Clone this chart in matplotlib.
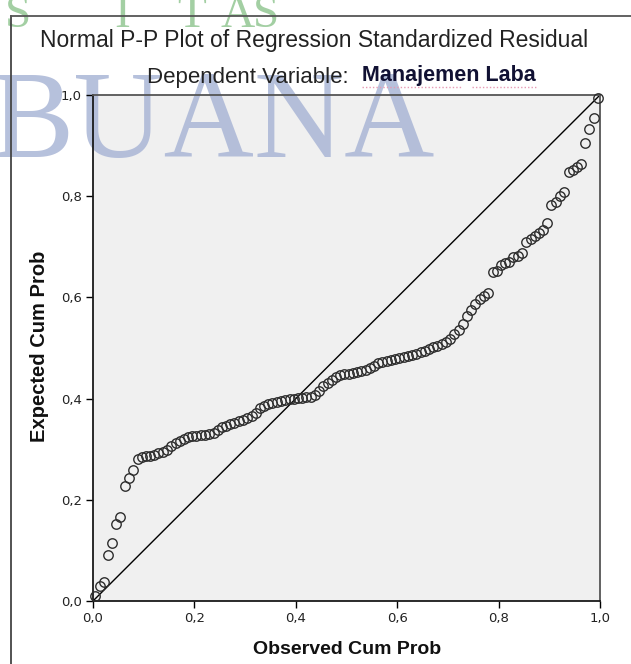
import numpy as np
import matplotlib.pyplot as plt
from matplotlib.lines import Line2D

# observed vs expected cumulative probabilities
observed = [0.004, 0.013, 0.021, 0.029, 0.038, 0.046, 0.054, 0.063, 0.071, 0.079,
            0.088, 0.096, 0.104, 0.113, 0.121, 0.129, 0.138, 0.146, 0.154, 0.163,
            0.171, 0.179, 0.188, 0.196, 0.204, 0.213, 0.221, 0.229, 0.238, 0.246,
            0.254, 0.263, 0.271, 0.279, 0.288, 0.296, 0.304, 0.313, 0.321, 0.329,
            0.338, 0.346, 0.354, 0.363, 0.371, 0.379, 0.388, 0.396, 0.404, 0.413,
            0.421, 0.429, 0.438, 0.446, 0.454, 0.463, 0.471, 0.479, 0.488, 0.496,
            0.504, 0.513, 0.521, 0.529, 0.538, 0.546, 0.554, 0.563, 0.571, 0.579,
            0.588, 0.596, 0.604, 0.613, 0.621, 0.629, 0.638, 0.646, 0.654, 0.663,
            0.671, 0.679, 0.688, 0.696, 0.704, 0.713, 0.721, 0.729, 0.738, 0.746,
            0.754, 0.763, 0.771, 0.779, 0.788, 0.796, 0.804, 0.813, 0.821, 0.829,
            0.838, 0.846, 0.854, 0.863, 0.871, 0.879, 0.888, 0.896, 0.904, 0.913,
            0.921, 0.929, 0.938, 0.946, 0.954, 0.963, 0.971, 0.979, 0.988, 0.996]
expected = [0.010, 0.030, 0.037, 0.091, 0.114, 0.152, 0.166, 0.227, 0.243, 0.258,
            0.281, 0.284, 0.286, 0.287, 0.289, 0.292, 0.294, 0.299, 0.306, 0.312,
            0.316, 0.320, 0.324, 0.326, 0.327, 0.328, 0.329, 0.330, 0.333, 0.338,
            0.343, 0.346, 0.349, 0.352, 0.355, 0.358, 0.361, 0.365, 0.372, 0.381,
            0.386, 0.389, 0.392, 0.394, 0.396, 0.398, 0.399, 0.400, 0.401, 0.402,
            0.403, 0.404, 0.407, 0.416, 0.424, 0.430, 0.437, 0.443, 0.446, 0.448,
            0.449, 0.450, 0.452, 0.454, 0.457, 0.460, 0.464, 0.470, 0.473, 0.475,
            0.477, 0.479, 0.481, 0.483, 0.485, 0.487, 0.489, 0.492, 0.495, 0.499,
            0.502, 0.504, 0.507, 0.511, 0.518, 0.527, 0.536, 0.547, 0.563, 0.575,
            0.586, 0.596, 0.603, 0.609, 0.650, 0.653, 0.664, 0.667, 0.670, 0.679,
            0.682, 0.688, 0.710, 0.716, 0.721, 0.727, 0.733, 0.748, 0.782, 0.788,
            0.800, 0.808, 0.848, 0.852, 0.858, 0.864, 0.905, 0.933, 0.955, 0.994]

ticks = [0.0, 0.2, 0.4, 0.6, 0.8, 1.0]
tick_labels = ['0,0', '0,2', '0,4', '0,6', '0,8', '1,0']

W, H = 631, 664
fig = plt.figure(figsize=(W / 100, H / 100), dpi=100)
fig.patch.set_facecolor('white')
ax = fig.add_axes([93 / W, 63 / H, 507 / W, 506 / H])
ax.set_facecolor('#f0f0f0')

# reference line
ax.plot([0, 1], [0, 1], color='black', linewidth=1.0, zorder=2)
ax.plot(observed, expected, 'o', mfc='none', mec='#2e2e2e', mew=1.0, ms=6.8,
        clip_on=False, zorder=3)

ax.set_xlim(0, 1)
ax.set_ylim(0, 1)
ax.set_xticks(ticks)
ax.set_xticklabels(tick_labels)
ax.set_yticks(ticks)
ax.set_yticklabels(tick_labels)
ax.tick_params(direction='out', length=5, width=1, labelsize=9.5,
               colors='black', labelcolor='#222222', pad=3)
for s in ['left', 'bottom']:
    ax.spines[s].set_linewidth(1.3)
    ax.spines[s].set_color('#1a1a1a')
for s in ['top', 'right']:
    ax.spines[s].set_linewidth(1.3)
    ax.spines[s].set_color('#555555')

# outer frame of the chart window
fig.add_artist(Line2D([10.5 / W, 10.5 / W], [0, 1 - 16 / H], color='#444444', lw=1.3))
fig.add_artist(Line2D([10.5 / W, 1], [1 - 16 / H, 1 - 16 / H], color='#555555', lw=1.3))

# watermark of the scanned page
ax.text(-10 / W, 1 - 157 / H, 'BUANA', transform=fig.transFigure, family='Liberation Serif',
        fontsize=90, color='#aab6d6', alpha=0.85, ha='left', va='baseline',
        clip_on=False, zorder=0.5)
for ch, xp in zip(['S', 'I', 'T', 'A', 'S'], [18, 122, 192, 238, 266]):
    fig.text(xp / W, 1 - 27 / H, ch, family='Liberation Serif', fontsize=34,
             color='#a3cfa3', ha='center', va='baseline', zorder=0.5)

fig.text(314 / W, 1 - 40 / H, 'Normal P-P Plot of Regression Standardized Residual',
         family='Liberation Sans', fontsize=16.5, color='#222222', ha='center', va='center')
fig.text(147 / W, 1 - 77 / H, 'Dependent Variable: ', family='Liberation Sans',
         fontsize=16, color='#222222', ha='left', va='center')
fig.text(362 / W, 1 - 75 / H, 'Manajemen Laba', family=['Liberation Sans Narrow', 'Liberation Sans'],
         fontsize=15.5, fontweight='bold', color='#111133', ha='left', va='center')
# spell-check squiggles under the variable name
fig.add_artist(Line2D([362 / W, 462 / W], [1 - 87 / H, 1 - 87 / H], color='#e79ab4',
                      lw=1.0, ls=(0, (1, 1.5))))
fig.add_artist(Line2D([472 / W, 537 / W], [1 - 87 / H, 1 - 87 / H], color='#e79ab4',
                      lw=1.0, ls=(0, (1, 1.5))))

fig.text(40 / W, 1 - 346 / H, 'Expected Cum Prob', family='Liberation Sans', fontsize=14.5,
         fontweight='bold', rotation=90, ha='center', va='center', color='#111111')
fig.text(347 / W, 1 - 650 / H, 'Observed Cum Prob', family='Liberation Sans', fontsize=14,
         fontweight='bold', ha='center', va='center', color='#111111')

fig.savefig('out.png', dpi=100)
